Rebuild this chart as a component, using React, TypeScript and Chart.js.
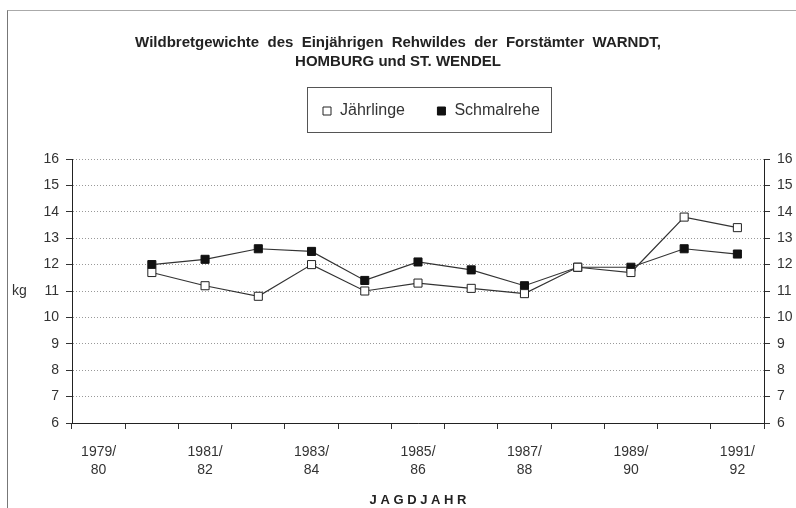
import React, { useEffect, useRef } from "react";
import { Chart, registerables } from "chart.js";

Chart.register(...registerables);

// ---- data ----
const categories = [
  "1979/80", "1980/81", "1981/82", "1982/83", "1983/84", "1984/85", "1985/86",
  "1986/87", "1987/88", "1988/89", "1989/90", "1990/91", "1991/92",
];
const jaehrlinge = [null, 11.7, 11.2, 10.8, 12.0, 11.0, 11.3, 11.1, 10.9, 11.9, 11.7, 13.8, 13.4];
const schmalrehe = [null, 12.0, 12.2, 12.6, 12.5, 11.4, 12.1, 11.8, 11.2, 11.9, 11.9, 12.6, 12.4];
const seriesNames = ["Jährlinge", "Schmalrehe"];
const yMin = 6;
const yMax = 16;
const yStep = 1;
const titleLines = [
  "Wildbretgewichte  des  Einjährigen  Rehwildes  der  Forstämter  WARNDT,",
  "HOMBURG und ST. WENDEL",
];
const xAxisTitle = "J A G D J A H R";
const yUnit = "kg";
const yUnitAt = 11;

const FONT = '"Liberation Sans", Arial, Helvetica, sans-serif';

export default function App() {
  const ref = useRef<HTMLCanvasElement>(null);

  useEffect(() => {
    const canvas = ref.current;
    if (!canvas) return;

    const legendTargetLeft = 322;
    const legendShift = {
      id: "legendShift",
      afterUpdate(chart: any) {
        const lg = chart.legend;
        if (!lg || !lg.legendHitBoxes || !lg.legendHitBoxes.length) return;
        const dx = legendTargetLeft - lg.legendHitBoxes[0].left;
        lg.left += dx;
        lg.right += dx;
        lg.legendHitBoxes.forEach((h: any) => (h.left += dx));
      },
    };

    const legendFrame = {
      id: "legendFrame",
      afterDraw(chart: any) {
        const hb = chart.legend && chart.legend.legendHitBoxes;
        if (!hb || !hb.length) return;
        const first = hb[0];
        const last = hb[hb.length - 1];
        const ctx = chart.ctx;
        const x1 = Math.round(first.left - 15) + 0.5;
        const x2 = Math.round(last.left + last.width + 11) + 0.5;
        const y1 = Math.round(first.top - 16) + 0.5;
        const y2 = Math.round(first.top + first.height + 13) + 0.5;
        ctx.save();
        ctx.strokeStyle = "#555";
        ctx.lineWidth = 1;
        ctx.strokeRect(x1, y1, x2 - x1, y2 - y1);
        ctx.restore();
      },
    };

    const unitLabel = {
      id: "unitLabel",
      afterDraw(chart: any) {
        const ctx = chart.ctx;
        const y = chart.scales.y.getPixelForValue(yUnitAt);
        ctx.save();
        ctx.font = `14px ${FONT}`;
        ctx.fillStyle = "#333";
        ctx.textAlign = "left";
        ctx.textBaseline = "middle";
        ctx.fillText(yUnit, 12, y);
        ctx.restore();
      },
    };

    const chart = new Chart(canvas, {
      type: "line",
      data: {
        labels: categories,
        datasets: [
          {
            label: seriesNames[0],
            data: jaehrlinge,
            borderColor: "#333",
            borderWidth: 1.2,
            backgroundColor: "#fff",
            pointStyle: "rect",
            pointRadius: 5.7,
            pointBorderWidth: 1,
            pointBorderColor: "#222",
            pointBackgroundColor: "#fff",
            tension: 0,
            yAxisID: "y",
            xAxisID: "x",
          },
          {
            label: seriesNames[1],
            data: schmalrehe,
            borderColor: "#333",
            borderWidth: 1.2,
            backgroundColor: "#111",
            pointStyle: "rect",
            pointRadius: 5.7,
            pointBorderWidth: 1,
            pointBorderColor: "#111",
            pointBackgroundColor: "#111",
            tension: 0,
            yAxisID: "y",
            xAxisID: "x",
          },
        ],
      },
      options: {
        responsive: false,
        animation: false,
        devicePixelRatio: 1,
        layout: { padding: 0 },
        plugins: {
          tooltip: { enabled: false },
          title: {
            display: true,
            text: titleLines,
            color: "#222",
            font: { size: 15, weight: "bold", family: FONT, lineHeight: 19 / 15 },
            padding: { top: 33.5, bottom: 0 },
          },
          legend: {
            display: true,
            position: "top",
            labels: {
              usePointStyle: true,
              boxWidth: 10,
              boxHeight: 8,
              padding: 31.5,
              color: "#333",
              font: { size: 16, family: FONT },
            },
          },
        },
        scales: {
          x: {
            type: "category",
            position: "bottom",
            offset: true,
            grid: {
              display: true,
              offset: true,
              drawOnChartArea: false,
              drawTicks: true,
              tickLength: 6,
              tickColor: "#333",
              color: "#333",
            },
            border: { display: true, color: "#222", width: 1 },
            ticks: {
              autoSkip: false,
              maxRotation: 0,
              minRotation: 0,
              padding: 13.5,
              color: "#333",
              font: { size: 14, family: FONT, lineHeight: 1.32 },
              callback: (_v: any, i: number) => {
                if (i % 2 !== 0) return "";
                const parts = categories[i].split("/");
                return [parts[0] + "/", parts[1]];
              },
            },
            title: {
              display: true,
              text: xAxisTitle,
              color: "#222",
              font: { size: 13, weight: "bold", family: FONT },
              padding: { top: 0, bottom: 0 },
            },
            afterFit: (s: any) => {
              s.height = 85;
            },
          },
          xTop: {
            type: "category",
            position: "top",
            offset: true,
            display: true,
            grid: { display: false },
            border: { display: false },
            ticks: { display: false },
            afterFit: (s: any) => {
              s.height = 30;
            },
          },
          y: {
            position: "left",
            min: yMin,
            max: yMax,
            ticks: {
              stepSize: yStep,
              padding: 7,
              color: "#333",
              font: { size: 14, family: FONT },
            },
            grid: {
              color: "#999",
              lineWidth: 1,
              tickColor: "#333",
              tickLength: 6,
              tickBorderDash: [],
            },
            border: { display: true, color: "#222", width: 1, dash: [1, 2] },
            afterFit: (s: any) => {
              s.width = 72;
            },
          },
          y2: {
            position: "right",
            min: yMin,
            max: yMax,
            ticks: {
              stepSize: yStep,
              padding: 7,
              color: "#333",
              font: { size: 14, family: FONT },
            },
            grid: {
              drawOnChartArea: false,
              tickColor: "#333",
              tickLength: 6,
            },
            border: { display: true, color: "#222", width: 1 },
            afterFit: (s: any) => {
              s.width = 32;
            },
          },
        },
      } as any,
      plugins: [legendShift, legendFrame, unitLabel],
    });

    return () => {
      chart.destroy();
    };
  }, []);

  return (
    <div
      style={{
        position: "absolute",
        left: 0,
        top: 0,
        width: 796,
        height: 508,
        background: "#fff",
        overflow: "hidden",
      }}
    >
      <canvas ref={ref} width={796} height={508} style={{ display: "block" }} />
      <div
        style={{
          position: "absolute",
          left: 7,
          top: 10,
          width: 789,
          height: 498,
          borderTop: "1px solid #aaa",
          borderLeft: "1px solid #777",
          boxSizing: "border-box",
          pointerEvents: "none",
        }}
      />
    </div>
  );
}
